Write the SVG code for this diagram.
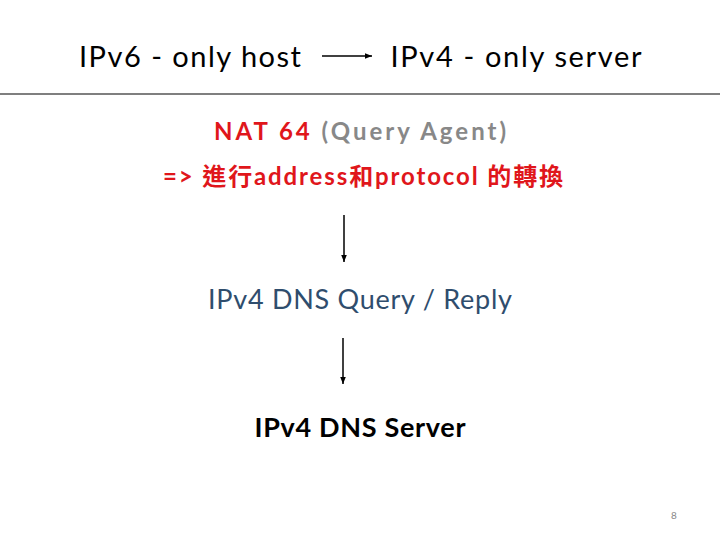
<svg xmlns="http://www.w3.org/2000/svg" width="720" height="540" viewBox="0 0 720 540">
<style>
text{font-family:Lato,"Open Sans","Noto Sans CJK TC",sans-serif}
.e{stroke:#000;stroke-width:1.5;fill:none;marker-end:url(#a)}
</style>
<defs><marker id="a" markerWidth="6" markerHeight="6" refX="5" refY="3" orient="auto"><path d="M0,1 L5,3 L0,5z" fill="#000"/></marker></defs>
<rect width="720" height="540" fill="#fff"/>
<g id="host"><text x="190" y="67" font-size="29" text-anchor="middle" textLength="222">IPv6 - only host</text></g>
<g id="server"><text x="516" y="67" font-size="29" text-anchor="middle" textLength="251">IPv4 - only server</text></g>
<line x1="0" y1="94" x2="720" y2="94" stroke="#000" stroke-width="1.2"/>
<g id="nat"><text x="360" y="140" font-size="24" font-weight="bold" text-anchor="middle" textLength="292"><tspan fill="#e0161b">NAT 64</tspan><tspan fill="#888"> (Query Agent)</tspan></text>
<text x="363" y="185" font-size="24" font-weight="bold" fill="#e0161b" text-anchor="middle" textLength="400">=&gt; 進行address和protocol 的轉換</text></g>
<g id="query"><text x="360" y="309" font-size="27" fill="#2f4d6d" text-anchor="middle" textLength="304">IPv4 DNS Query / Reply</text></g>
<g id="dns"><text x="360" y="437" font-size="27" font-weight="bold" text-anchor="middle" textLength="211">IPv4 DNS Server</text></g>
<text x="674" y="519" font-size="10" fill="#888" text-anchor="middle">8</text>
<g id="connectors">
<line class="e" x1="322" y1="56" x2="372" y2="56"/>
<line class="e" x1="344" y1="215" x2="344" y2="262"/>
<line class="e" x1="343" y1="338" x2="343" y2="384"/>
</g>
</svg>
